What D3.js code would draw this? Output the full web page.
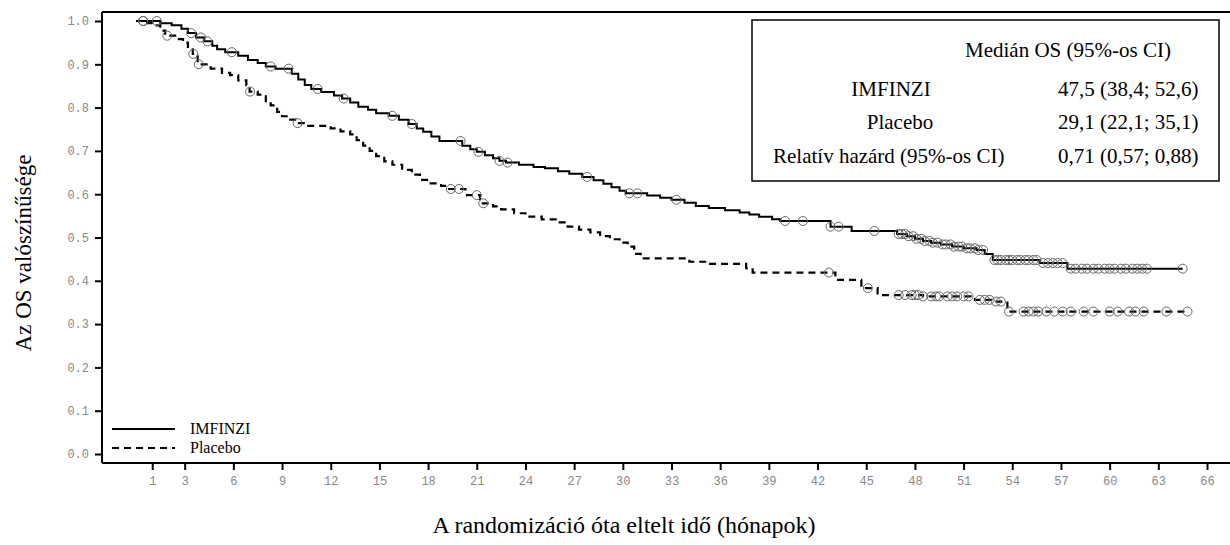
<!DOCTYPE html>
<html><head><meta charset="utf-8">
<script src="https://cdn.jsdelivr.net/npm/d3@7"></script>
<style>body{margin:0;background:#fff}svg{display:block}</style>
</head><body>
<svg id="c" width="1230" height="545"></svg>
<script>
// ---- data ----
const xTicks = [1,3,6,9,12,15,18,21,24,27,30,33,36,39,42,45,48,51,54,57,60,63,66];
const yTicks = [0,0.1,0.2,0.3,0.4,0.5,0.6,0.7,0.8,0.9,1.0];
const seriesNames = ["IMFINZI","Placebo"];

const imfTimes = [0,1.5,2.2,2.8,3.2,3.7,4.2,4.7,5.0,5.5,6.3,6.9,7.5,8.0,8.6,9.6,10.0,10.4,10.8,11.4,12.2,12.7,13.2,13.7,14.3,14.8,15.6,16.2,16.8,17.3,17.7,18.2,18.7,20.1,20.6,21.0,21.5,22.0,22.4,22.8,23.6,24.5,25.2,26.0,26.7,27.5,28.2,28.8,29.3,29.8,30.2,31.5,32.3,33.0,33.8,34.5,35.3,36.3,37.2,37.8,38.4,39.2,39.7,42.8,44.1,46.9,47.5,48.0,48.5,49.0,49.6,50.3,51.0,51.8,52.3,52.8,55.7,57.4,64.5];
const imfSurv  = [1.0,0.995,0.99,0.982,0.972,0.962,0.953,0.943,0.935,0.928,0.92,0.91,0.903,0.895,0.89,0.878,0.865,0.852,0.843,0.836,0.828,0.821,0.812,0.802,0.795,0.787,0.781,0.772,0.762,0.752,0.744,0.733,0.723,0.712,0.704,0.698,0.69,0.683,0.677,0.673,0.668,0.663,0.66,0.653,0.647,0.64,0.632,0.624,0.616,0.608,0.602,0.597,0.592,0.587,0.58,0.573,0.568,0.563,0.558,0.553,0.548,0.542,0.538,0.525,0.515,0.508,0.503,0.497,0.492,0.488,0.484,0.479,0.475,0.471,0.462,0.448,0.441,0.428,0.428];

const plaTimes = [0,0.5,1.0,1.5,1.8,2.5,2.9,3.2,3.5,3.8,4.6,5.3,5.8,6.3,6.8,7.0,7.5,8.0,8.3,8.7,9.0,9.5,9.9,10.5,12.0,12.6,13.2,13.6,14.0,14.4,14.8,15.3,15.8,16.4,17.0,17.5,18.0,18.8,19.2,20.3,21.2,22.0,22.5,23.3,24.0,25.0,26.0,26.6,27.3,28.0,28.6,29.2,29.8,30.3,30.7,31.1,34.1,35.2,37.6,38.0,43.1,44.7,45.7,48.5,51.7,52.7,53.7,64.8];
const plaSurv  = [1.0,0.995,0.99,0.978,0.966,0.958,0.95,0.94,0.924,0.90,0.89,0.88,0.875,0.863,0.852,0.837,0.83,0.815,0.805,0.79,0.78,0.772,0.764,0.758,0.752,0.745,0.738,0.725,0.712,0.70,0.688,0.676,0.668,0.656,0.645,0.633,0.625,0.619,0.612,0.598,0.579,0.572,0.565,0.556,0.548,0.542,0.535,0.525,0.518,0.512,0.503,0.496,0.488,0.479,0.462,0.452,0.444,0.439,0.429,0.419,0.402,0.383,0.367,0.364,0.356,0.352,0.329,0.329];

const imfCensor = [0.43,1.28,3.4,4.0,4.4,5.9,8.3,9.4,11.2,12.8,15.8,17.0,20.0,21.1,22.4,22.9,27.8,30.4,30.9,33.3,40.0,41.1,42.8,43.3,45.5,
  47.0,47.2,47.4,47.6,47.9,48.1,48.4,48.6,48.9,49.1,49.4,49.7,49.9,50.2,50.4,50.7,50.9,51.2,51.4,51.7,51.9,52.2,
  52.9,53.1,53.3,53.6,53.8,54.0,54.3,54.5,54.8,55.0,55.3,55.5,55.9,56.2,56.5,56.8,57.1,
  57.6,57.9,58.3,58.6,59.0,59.3,59.7,60.0,60.3,60.7,61.0,61.4,61.7,62.0,62.3,64.5];
const plaCensor = [0.45,1.93,3.53,3.87,7.03,9.96,19.4,19.9,21.0,21.4,42.7,45.1,
  47.0,47.4,47.8,48.0,48.2,48.5,49.0,49.3,49.5,50.0,50.3,50.6,51.0,51.3,52.0,52.3,52.6,53.0,53.3,
  53.8,54.7,55.0,55.3,55.6,56.1,56.6,57.1,57.6,58.4,59.0,60.0,60.5,61.2,61.6,62.1,63.5,64.8];

const boxHeader = "Medián OS (95%-os CI)";
const boxLabels = ["IMFINZI","Placebo","Relatív hazárd (95%-os CI)"];
const boxValues = ["47,5 (38,4; 52,6)","29,1 (22,1; 35,1)","0,71 (0,57; 0,88)"];

// ---- layout ----
const svg = d3.select("#c");
const x = d3.scaleLinear().domain([0,66]).range([136,1207]);
const y = d3.scaleLinear().domain([0,1]).range([454,21]);
const serif = "'Liberation Serif','Times New Roman',serif";
const mono = "'Liberation Mono','Courier New',monospace";

// frame
svg.append("path").attr("d","M102,12H1230").attr("stroke","#000").attr("stroke-width",2).attr("fill","none");

const xAxis = svg.append("g").attr("transform","translate(0,463)")
  .call(d3.axisBottom(x).tickValues(xTicks).tickSize(7).tickSizeOuter(0).tickPadding(6));
xAxis.select(".domain").attr("d","M102,0H1230").attr("stroke-width",2);
xAxis.selectAll(".tick line").attr("stroke-width",2);
xAxis.selectAll("text").attr("font-family",mono).attr("font-size",12).attr("fill","#888");

const yAxis = svg.append("g").attr("transform","translate(102,0)")
  .call(d3.axisLeft(y).tickValues(yTicks).tickFormat(d3.format(".1f")).tickSize(7).tickSizeOuter(0).tickPadding(6));
yAxis.select(".domain").attr("d","M0,12V463").attr("stroke-width",2);
yAxis.selectAll(".tick line").attr("stroke-width",2);
yAxis.selectAll("text").attr("font-family",mono).attr("font-size",12).attr("fill","#888");

// curves
const line = d3.line().curve(d3.curveStepAfter).x(d=>x(d[0])).y(d=>y(d[1]));
const imf = imfTimes.map((t,i)=>[t,imfSurv[i]]);
const pla = plaTimes.map((t,i)=>[t,plaSurv[i]]);
svg.append("path").attr("d",line(imf)).attr("fill","none").attr("stroke","#000").attr("stroke-width",2);
svg.append("path").attr("d",line(pla)).attr("fill","none").attr("stroke","#000").attr("stroke-width",2.2).attr("stroke-dasharray","7,5");

// censor marks
const bis = d3.bisector(d=>d).right;
function survAt(times, surv, t){ const i = Math.max(0, bis(times,t)-1); return surv[i]; }
function censors(ct, times, surv){
  svg.append("g").selectAll("circle").data(ct).join("circle")
    .attr("cx",d=>x(d)).attr("cy",d=>y(survAt(times,surv,d))).attr("r",4.5)
    .attr("fill","none").attr("stroke","#666").attr("stroke-width",1);
}
censors(imfCensor, imfTimes, imfSurv);
censors(plaCensor, plaTimes, plaSurv);

// box
svg.append("rect").attr("x",752).attr("y",20).attr("width",467).attr("height",161)
  .attr("fill","#fff").attr("stroke","#000").attr("stroke-width",1.5);
const bt = svg.append("g").attr("font-family",serif).attr("font-size",21).attr("fill","#000");
bt.append("text").attr("x",965).attr("y",57).text(boxHeader);
const rowY = [96,129,163];
bt.append("text").attr("x",891).attr("y",rowY[0]).attr("text-anchor","middle").text(boxLabels[0]);
bt.append("text").attr("x",900).attr("y",rowY[1]).attr("text-anchor","middle").text(boxLabels[1]);
bt.append("text").attr("x",773).attr("y",rowY[2]).text(boxLabels[2]);
boxValues.forEach((v,i)=>bt.append("text").attr("x",1058).attr("y",rowY[i]).text(v));

// in-plot legend
const lg = svg.append("g");
lg.append("line").attr("x1",112).attr("x2",175).attr("y1",429).attr("y2",429).attr("stroke","#000").attr("stroke-width",2);
lg.append("line").attr("x1",112).attr("x2",175).attr("y1",448).attr("y2",448).attr("stroke","#000").attr("stroke-width",2.2).attr("stroke-dasharray","7,5");
lg.append("text").attr("x",190).attr("y",434).attr("font-family",serif).attr("font-size",16).text(seriesNames[0]);
lg.append("text").attr("x",190).attr("y",453).attr("font-family",serif).attr("font-size",16).text(seriesNames[1]);

// axis titles
svg.append("text").attr("transform","translate(31,253) rotate(-90)").attr("text-anchor","middle")
  .attr("font-family",serif).attr("font-size",23).text("Az OS valószínűsége");
svg.append("text").attr("x",624).attr("y",533).attr("text-anchor","middle")
  .attr("font-family",serif).attr("font-size",24).text("A randomizáció óta eltelt idő (hónapok)");
</script>
</body></html>
